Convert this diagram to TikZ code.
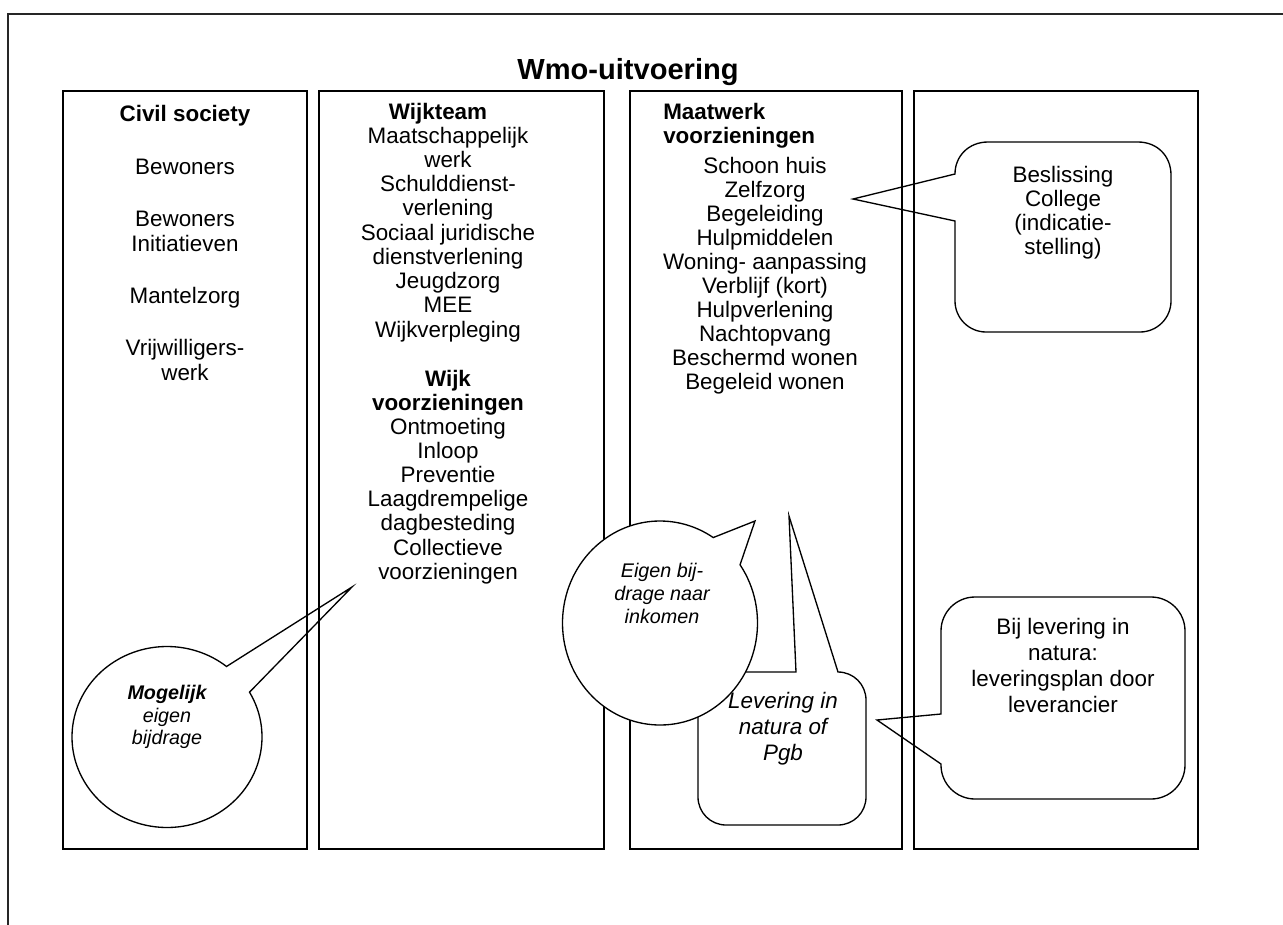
\documentclass[tikz,border=0pt]{standalone}
\usepackage{fontspec}
\setmainfont{Liberation Sans}
\usetikzlibrary{calc}
\begin{document}
\begin{tikzpicture}[x=0.75pt,y=-0.75pt,
  box/.style={draw=black, line width=1.1pt},
  call/.style={draw=black, line width=1pt, line join=miter},
  txt/.style={anchor=base, inner sep=0pt, font=\fontsize{16.8}{20}\selectfont},
  hd/.style={anchor=base, inner sep=0pt, font=\fontsize{16.8}{20}\selectfont\bfseries},
  ctx/.style={anchor=base, inner sep=0pt, font=\fontsize{14.8}{17}\selectfont\itshape},
  ltx/.style={anchor=base, inner sep=0pt, font=\fontsize{16.8}{20}\selectfont\itshape},
]
\useasboundingbox (0,0) rectangle (1283,925);
% outer frame
\draw[line width=0.8pt, black!85] (1283,14) -- (8,14) -- (8,925);
% columns
\draw[box] (63,91) rectangle (307,849);
\draw[box] (319,91) rectangle (604,849);
\draw[box] (630,91) rectangle (902,849);
\draw[box] (914,91) rectangle (1198,849);

% callout: Mogelijk eigen bijdrage
\coordinate (mc) at (167,737);
\coordinate (mtip) at (352,587);
\draw[call] ($(mc)+(-29.7:95 and 90.5)$) arc[start angle=-29.7, end angle=308.8, x radius=95, y radius=90.5] -- (mtip) -- cycle;

% callout: Beslissing College
\coordinate (btip) at (853,199);
\draw[call] (955,174) -- (btip) -- (955,221) -- (955,301)
  .. controls (955,318.1) and (968.9,332) .. (986,332) -- (1140,332)
  .. controls (1157.1,332) and (1171,318.1) .. (1171,301) -- (1171,175)
  .. controls (1171,155.9) and (1157.1,142) .. (1138,142) -- (988,142)
  .. controls (968.9,142) and (955,155.9) .. (955,174) -- cycle;

% callout: Bij levering in natura
\coordinate (ltip) at (877,720);
\draw[call] (941,714) -- (ltip) -- (941,764) -- (941,765)
  .. controls (941,783.8) and (956.2,799) .. (975,799) -- (1151,799)
  .. controls (1169.8,799) and (1185,783.8) .. (1185,765) -- (1185,631)
  .. controls (1185,612.2) and (1169.8,597) .. (1151,597) -- (975,597)
  .. controls (956.2,597) and (941,612.2) .. (941,631) -- cycle;

% callout: Levering in natura of Pgb
\coordinate (ntip) at (789,516);
\draw[call] (796,672) -- (ntip) -- (838,672)
  .. controls (853.5,672) and (866,684.5) .. (866,700) -- (866,797)
  .. controls (866,812.5) and (853.5,825) .. (838,825) -- (726,825)
  .. controls (710.5,825) and (698,812.5) .. (698,797) -- (698,700)
  .. controls (698,684.5) and (710.5,672) .. (726,672) -- cycle;

% callout: Eigen bijdrage (white filled)
\coordinate (ec) at (660,623);
\coordinate (etip) at (755,521);
\draw[call, fill=white] ($(ec)+(-34.8:97.5 and 102)$) arc[start angle=-34.8, end angle=303.1, x radius=97.5, y radius=102] -- (etip) -- cycle;

% title
\node[anchor=base, inner sep=0pt, font=\fontsize{21.8}{25}\selectfont\bfseries] (title) at (628,79) {Wmo-uitvoering};

% column 1
\node[hd] (cs) at (185,121) {Civil society};
\node[txt] (c1a) at (185,174) {Bewoners};
\node[txt] (c1b) at (185,226) {Bewoners};
\node[txt] (c1c) at (185,251) {Initiatieven};
\node[txt] (c1d) at (185,303) {Mantelzorg};
\node[txt] (c1e) at (185,355) {Vrijwilligers-};
\node[txt] (c1f) at (185,380) {werk};

% column 2
\node[hd] (wt) at (438,119) {Wijkteam};
\foreach \t [count=\i] in {Maatschappelijk,werk,Schulddienst-,verlening,Sociaal juridische,dienstverlening,Jeugdzorg,MEE,Wijkverpleging}
  \node[txt] (wt\i) at (448,{143+24.25*(\i-1)}) {\t};
\node[hd] (wv1) at (448,386) {Wijk};
\node[hd] (wv2) at (448,410) {voorzieningen};
\foreach \t [count=\i] in {Ontmoeting,Inloop,Preventie,Laagdrempelige,dagbesteding,Collectieve,voorzieningen}
  \node[txt] (wv\i x) at (448,{434+24.2*(\i-1)}) {\t};

% column 3
\node[hd, anchor=base west] (mw1) at (663,119) {Maatwerk};
\node[hd, anchor=base west] (mw2) at (663,143) {voorzieningen};
\foreach \t [count=\i] in {Schoon huis,Zelfzorg,Begeleiding,Hulpmiddelen,Woning- aanpassing,Verblijf (kort),Hulpverlening,Nachtopvang,Beschermd wonen,Begeleid wonen}
  \node[txt] (mw\i x) at (765,{173+24.1*(\i-1)}) {\t};

% callout texts
\node[txt] (bs1) at (1063,182) {Beslissing};
\node[txt] (bs2) at (1063,206) {College};
\node[txt] (bs3) at (1063,230) {(indicatie-};
\node[txt] (bs4) at (1063,254) {stelling)};

\node[txt] (bl1) at (1063,634) {Bij levering in};
\node[txt] (bl2) at (1063,660) {natura:};
\node[txt] (bl3) at (1063,686) {leveringsplan door};
\node[txt] (bl4) at (1063,712) {leverancier};

\node[ltx] (ln1) at (783,708) {Levering in};
\node[ltx] (ln2) at (783,734) {natura of};
\node[ltx] (ln3) at (783,760) {Pgb};

\node[ctx] (eb1) at (662,577) {Eigen bij-};
\node[ctx] (eb2) at (662,600) {drage naar};
\node[ctx] (eb3) at (662,623) {inkomen};

\node[ctx, font=\fontsize{14.8}{17}\selectfont\bfseries\itshape] (mg1) at (167,699) {Mogelijk};
\node[ctx] (mg2) at (167,722) {eigen};
\node[ctx] (mg3) at (167,744) {bijdrage};
\end{tikzpicture}
\end{document}
